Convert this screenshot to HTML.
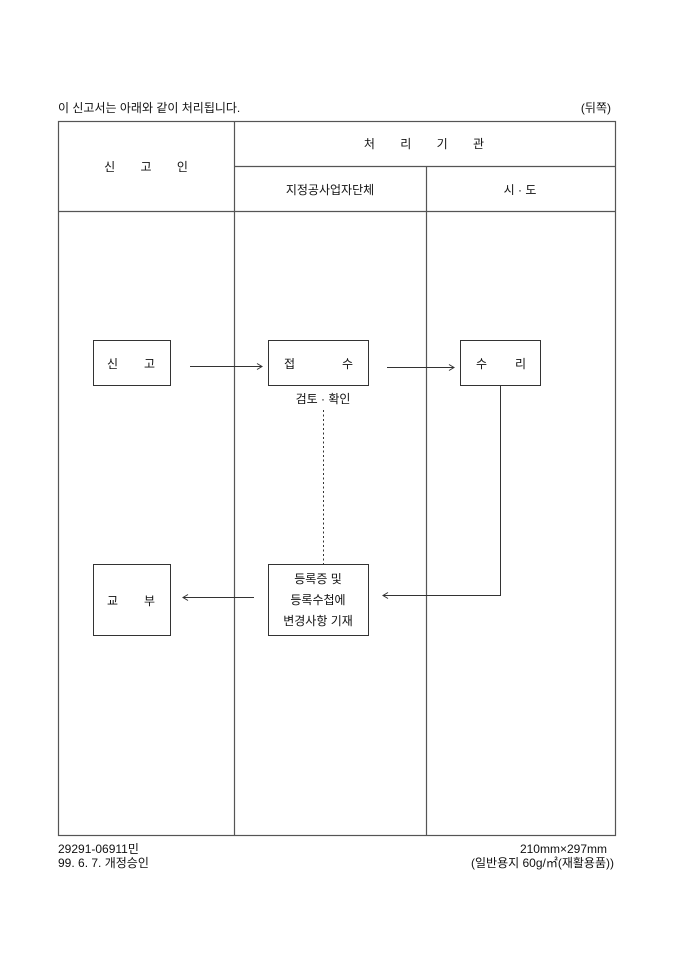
<!DOCTYPE html>
<html><head><meta charset="utf-8"><style>
html,body{margin:0;padding:0;background:#fff;}
svg{display:block;}
text{font-family:"Liberation Sans","Noto Sans CJK KR","NanumGothic",sans-serif;font-size:12px;fill:#111;}
</style></head><body>
<svg width="680" height="962" viewBox="0 0 680 962">
<g stroke="#555" stroke-width="1.2" fill="none">
<rect x="58.5" y="121.5" width="557" height="714"/>
<line x1="234.5" y1="121" x2="234.5" y2="835"/>
<line x1="426.5" y1="166" x2="426.5" y2="835"/>
<line x1="234" y1="166.5" x2="615" y2="166.5"/>
<line x1="58" y1="211.5" x2="615" y2="211.5"/>
</g>
<g stroke="#333" stroke-width="1" fill="none">
<rect x="93.5" y="340.5" width="77" height="45"/>
<rect x="268.5" y="340.5" width="100" height="45"/>
<rect x="460.5" y="340.5" width="80" height="45"/>
<rect x="93.5" y="564.5" width="77" height="71"/>
<rect x="268.5" y="564.5" width="100" height="71"/>
<line x1="190" y1="366.5" x2="262" y2="366.5"/>
<polyline points="257,363.5 262,366.5 257,369.5"/>
<line x1="387" y1="367.5" x2="454" y2="367.5"/>
<polyline points="449,364.5 454,367.5 449,370.5"/>
<polyline points="500.5,386 500.5,595.5 383,595.5"/>
<polyline points="388,592.5 383,595.5 388,598.5"/>
<line x1="254" y1="597.5" x2="183" y2="597.5"/>
<polyline points="188,594.5 183,597.5 188,600.5"/>
<line x1="323.5" y1="410" x2="323.5" y2="564" stroke-dasharray="2,2.5"/>
</g>
<text x="58" y="112">이 신고서는 아래와 같이 처리됩니다.</text>
<text x="611" y="112" text-anchor="end">(뒤쪽)</text>
<text x="146" y="171" text-anchor="middle" word-spacing="22">신 고 인</text>
<text x="424" y="148" text-anchor="middle" word-spacing="22">처 리 기 관</text>
<text x="330" y="194" text-anchor="middle">지정공사업자단체</text>
<text x="520" y="194" text-anchor="middle">시 · 도</text>
<text x="107" y="368">신</text><text x="144" y="368">고</text>
<text x="284" y="368">접</text><text x="342" y="368">수</text>
<text x="476" y="368">수</text><text x="515" y="368">리</text>
<text x="323" y="403" text-anchor="middle">검토 · 확인</text>
<text x="107" y="605">교</text><text x="144" y="605">부</text>
<text x="318" y="583" text-anchor="middle">등록증 및</text>
<text x="318" y="604" text-anchor="middle">등록수첩에</text>
<text x="318" y="625" text-anchor="middle">변경사항 기재</text>
<text x="58" y="853">29291-06911민</text>
<text x="58" y="867">99. 6. 7. 개정승인</text>
<text x="607" y="853" text-anchor="end">210mm×297mm</text>
<text x="614" y="867" text-anchor="end">(일반용지 60g/㎡(재활용품))</text>
</svg>
</body></html>
